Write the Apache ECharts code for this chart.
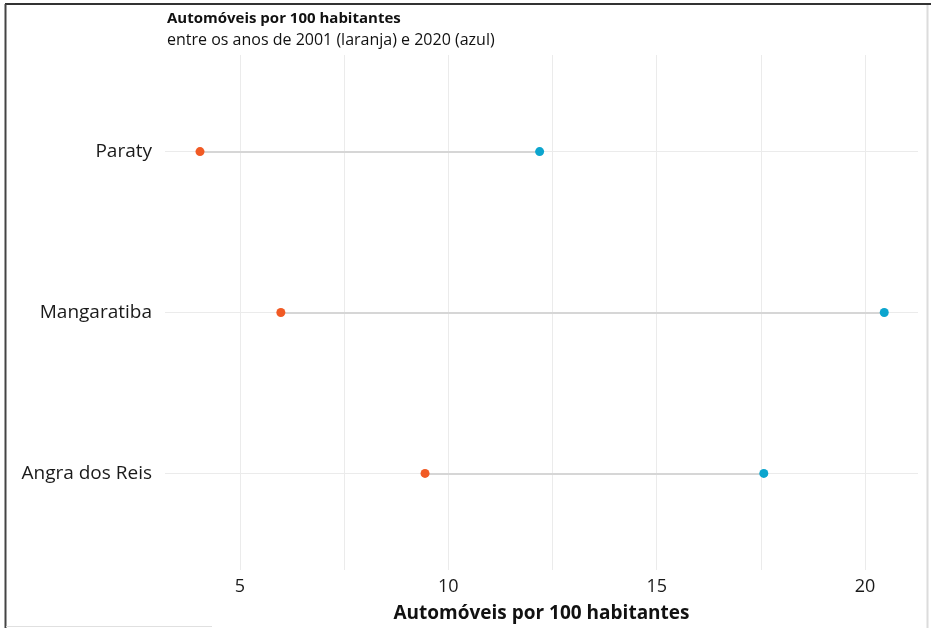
<!DOCTYPE html>
<html>
<head>
<meta charset="utf-8">
<script src="https://cdn.jsdelivr.net/npm/echarts@6/dist/echarts.min.js"></script>
<style>
html,body{margin:0;padding:0;background:#fff;}
#chart{width:931px;height:628px;}
</style>
</head>
<body>
<div id="chart"></div>
<script>
// Data
const categories = ['Angra dos Reis', 'Mangaratiba', 'Paraty'];
const values2001 = [9.44, 5.98, 4.04];
const values2020 = [17.57, 20.46, 12.19];
const xTickLabels = [5, 10, 15, 20];
const xGridValues = [5, 7.5, 10, 12.5, 15, 17.5, 20];

const FONT = '"Open Sans", "Noto Sans", sans-serif';
const ORANGE = '#F15A24';
const BLUE = '#0CA5CE';

const chart = echarts.init(document.getElementById('chart'));

const yPos = categories.map((c, i) => i + 1);
const orangeData = values2001.map((v, i) => [v, yPos[i]]);
const blueData = values2020.map((v, i) => [v, yPos[i]]);
const segData = values2001.map((v, i) => ({ coords: [[v, yPos[i]], [values2020[i], yPos[i]]] }));

const option = {
  backgroundColor: '#fff',
  animation: false,
  title: [{
    text: 'Automóveis por 100 habitantes',
    left: 162, top: 6,
    textStyle: { fontFamily: FONT, fontSize: 15, fontWeight: 'bold', color: '#111' }
  }, {
    text: 'entre os anos de 2001 (laranja) e 2020 (azul)',
    left: 162, top: 27,
    textStyle: { fontFamily: FONT, fontSize: 16, fontWeight: 'normal', color: '#111' }
  }],
  grid: { left: 165, right: 13, top: 55, bottom: 56, containLabel: false },
  xAxis: {
    type: 'value',
    min: 3.2, max: 21.27,
    name: 'Automóveis por 100 habitantes',
    nameLocation: 'middle',
    nameGap: 34,
    nameTextStyle: { fontFamily: FONT, fontSize: 19, fontWeight: 'bold', color: '#111' },
    axisLine: { show: false },
    axisTick: { show: false, customValues: xGridValues },
    axisLabel: { customValues: xTickLabels, fontFamily: FONT, fontSize: 18, color: '#1a1a1a', margin: 8 },
    splitLine: { show: true, lineStyle: { color: '#ebebeb', width: 1 } }
  },
  yAxis: {
    type: 'value',
    min: 0.4, max: 3.6,
    axisLine: { show: false },
    axisTick: { show: false, customValues: yPos },
    axisLabel: {
      customValues: yPos,
      formatter: function (v) { return categories[Math.round(v) - 1] || ''; },
      fontFamily: FONT, fontSize: 19, color: '#1a1a1a', margin: 13
    },
    splitLine: { show: true, lineStyle: { color: '#ebebeb', width: 1 } }
  },
  series: [{
    type: 'lines',
    coordinateSystem: 'cartesian2d',
    data: segData,
    lineStyle: { color: '#d6d6d6', width: 2, opacity: 1 },
    silent: true,
    z: 2
  }, {
    type: 'scatter',
    data: orangeData,
    symbolSize: 9,
    itemStyle: { color: ORANGE, opacity: 1 },
    z: 3
  }, {
    type: 'scatter',
    data: blueData,
    symbolSize: 9,
    itemStyle: { color: BLUE, opacity: 1 },
    z: 3
  }],
  graphic: [
    { type: 'line', shape: { x1: 5, y1: 4, x2: 931, y2: 4 }, style: { stroke: '#333', lineWidth: 2 }, silent: true },
    { type: 'line', shape: { x1: 5.5, y1: 4, x2: 5.5, y2: 628 }, style: { stroke: '#444', lineWidth: 2 }, silent: true },
    { type: 'line', shape: { x1: 927.5, y1: 5, x2: 927.5, y2: 628 }, style: { stroke: '#dcdcdc', lineWidth: 2 }, silent: true },
    { type: 'line', shape: { x1: 6, y1: 626.5, x2: 212, y2: 626.5 }, style: { stroke: '#e0e0e0', lineWidth: 1 }, silent: true }
  ]
};
chart.setOption(option);
</script>
</body>
</html>
